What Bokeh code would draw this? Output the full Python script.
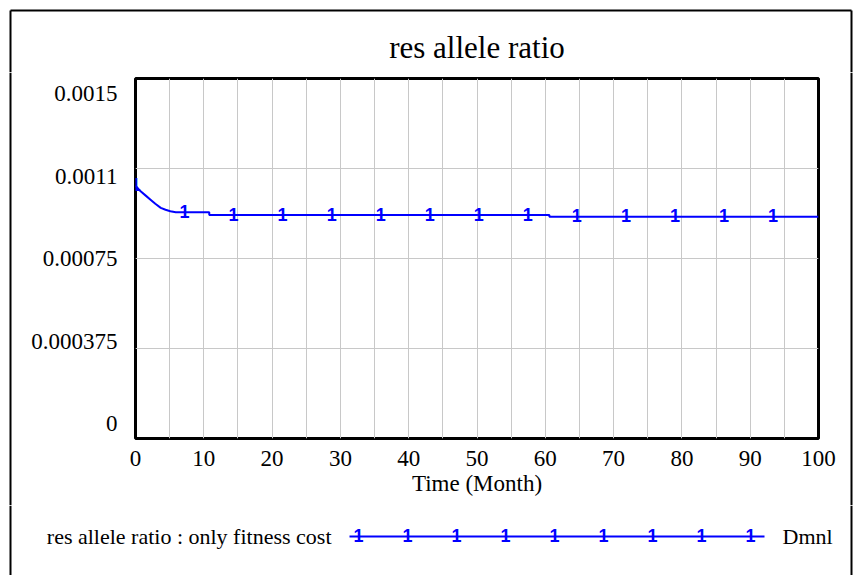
import numpy as np
from bokeh.plotting import figure
from bokeh.layouts import column, row
from bokeh.models import FixedTicker, CustomJSTickFormatter, Range1d
from bokeh.embed import file_html
from bokeh.resources import INLINE
from bokeh.core.properties import value

# Simulation output: res allele ratio, run "only fitness cost"
time_month = [0, 0.75, 1.5, 2.2, 2.9, 3.7, 4.4, 5.1, 5.9, 10.8, 10.8, 60.6, 60.6, 100]
res_allele_ratio = [0.001054, 0.001030, 0.001012, 0.000995, 0.000978, 0.000961,
                    0.000953, 0.000947, 0.000943, 0.000943, 0.000931, 0.000931,
                    0.000924, 0.000924]

chart_title = "res allele ratio"
x_axis_title = "Time (Month)"
series_name = "res allele ratio : only fitness cost"
series_units = "Dmnl"
series_marker = "1"

x_ticks = list(range(0, 101, 10))
x_grid = list(range(0, 101, 5))
y_ticks = [0, 0.000375, 0.00075, 0.001125, 0.0015]
y_tick_labels = ["0", "0.000375", "0.00075", "0.0011", "0.0015"]

# ---- page layout (pixels) ----
W = 856
TOP_H, MID_H, LEG_H = 72, 433, 70
LEFT_W, RIGHT_W = 20, 16
BOX_L, BOX_R, BOX_T = 10, 851, 10         # outer box around the chart
PLOT_W = W - LEFT_W - RIGHT_W
FRAME_L, FRAME_R, FRAME_T, FRAME_B = 135, 818, 78, 438

SERIF = "Liberation Serif"
SANS = "Liberation Sans"
BLUE = "#0000ff"
GRID = "#c8c8c8"
MARK_STEP = 7.18          # spacing of the "1" markers along the run, in months
MARK_SIZE = "18px"
MARK_DY = -1
LABEL_INSET = 15 / 360    # y tick labels are spread slightly inside the frame
LABEL_SIZE = "23px"
LEGEND_SIZE = "22px"

x_lo, x_hi = 0, 100
y_lo, y_hi = y_ticks[0], y_ticks[-1]


def pixel_panel(width, height):
    """A plain panel whose data space is its own pixels, y pointing down."""
    f = figure(width=width, height=height, output_backend="svg", toolbar_location=None,
               x_range=Range1d(0, width), y_range=Range1d(height, 0),
               x_axis_type=None, y_axis_type=None, min_border=0,
               outline_line_color=None, background_fill_color="white",
               border_fill_color="white", frame_align=False)
    f.grid.visible = False
    return f


def box_sides(f, x_off, height):
    f.segment(x0=[BOX_L - x_off, BOX_R - x_off], y0=[0, 0],
              x1=[BOX_L - x_off, BOX_R - x_off], y1=[height, height],
              line_color="black", line_width=2)


# ---- top strip: box top edge and chart title ----
top = pixel_panel(W, TOP_H)
top.segment(x0=[BOX_L, BOX_L, BOX_R], y0=[BOX_T, BOX_T, BOX_T],
            x1=[BOX_R, BOX_L, BOX_R], y1=[BOX_T, TOP_H, TOP_H],
            line_color="black", line_width=2)
top.text(x=[(FRAME_L + FRAME_R) / 2], y=[47], text=[chart_title],
         text_font=value(SERIF), text_font_size="31px", text_color="black",
         text_align="center", text_baseline="middle")

# ---- main plot ----
p = figure(width=PLOT_W, height=MID_H, output_backend="svg", toolbar_location=None,
           x_range=Range1d(x_lo, x_hi), y_range=Range1d(y_lo, y_hi),
           min_border_left=FRAME_L - LEFT_W, min_border_right=LEFT_W + PLOT_W - FRAME_R,
           min_border_top=FRAME_T - TOP_H, min_border_bottom=TOP_H + MID_H - FRAME_B,
           background_fill_color="white", border_fill_color="white", frame_align=False)
p.outline_line_color = "black"
p.outline_line_width = 3

p.xgrid.ticker = FixedTicker(ticks=x_grid)
p.ygrid.ticker = FixedTicker(ticks=y_ticks)
for g in (p.xgrid, p.ygrid):
    g.grid_line_color = GRID
    g.grid_line_width = 1

for ax in (p.xaxis, p.yaxis):
    ax.axis_line_color = None
    ax.major_tick_line_color = None
    ax.minor_tick_line_color = None
    ax.major_tick_in = 0
    ax.major_tick_out = 0
    ax.major_label_text_font = SERIF
    ax.major_label_text_font_size = LABEL_SIZE
    ax.major_label_text_color = "black"

p.xaxis.ticker = FixedTicker(ticks=x_ticks)
p.xaxis.major_label_standoff = 12
p.xaxis.axis_label = x_axis_title
p.xaxis.axis_label_text_font = SERIF
p.xaxis.axis_label_text_font_size = LABEL_SIZE
p.xaxis.axis_label_text_font_style = "normal"
p.xaxis.axis_label_text_color = "black"
p.xaxis.axis_label_standoff = 2

# y labels sit evenly between slightly inset top and bottom positions
span = y_hi - y_lo
y_label_pos = [y_lo + span * (LABEL_INSET + (1 - 2 * LABEL_INSET) * (v - y_lo) / span)
               for v in y_ticks]
p.yaxis.ticker = FixedTicker(ticks=y_label_pos)
p.yaxis.formatter = CustomJSTickFormatter(args=dict(labels=y_tick_labels),
                                          code="return labels[index];")
p.yaxis.major_label_standoff = 18

p.line(time_month, res_allele_ratio, line_color=BLUE, line_width=2)

mark_t = np.arange(x_lo, x_hi, MARK_STEP)
mark_v = np.interp(mark_t, time_month, res_allele_ratio)
p.text(x=mark_t, y=mark_v, text=[series_marker] * len(mark_t),
       text_font=value(SANS), text_font_size=MARK_SIZE, text_font_style="bold",
       text_color=BLUE, text_align="center", text_baseline="middle", y_offset=MARK_DY)

left = pixel_panel(LEFT_W, MID_H)
box_sides(left, 0, MID_H)
right = pixel_panel(RIGHT_W, MID_H)
box_sides(right, LEFT_W + PLOT_W, MID_H)

# ---- legend strip ----
leg = pixel_panel(W, LEG_H)
box_sides(leg, 0, LEG_H)
LEG_Y = 31
LEG_X0, LEG_X1 = 349, 764
leg.text(x=[331], y=[LEG_Y], text=[series_name], text_font=value(SERIF),
         text_font_size=LEGEND_SIZE, text_color="black",
         text_align="right", text_baseline="middle")
leg.segment(x0=[LEG_X0], y0=[LEG_Y], x1=[LEG_X1], y1=[LEG_Y],
            line_color=BLUE, line_width=2)
leg_mark_x = [358 + 49 * i for i in range(9)]
leg.text(x=leg_mark_x, y=[LEG_Y] * len(leg_mark_x), text=[series_marker] * len(leg_mark_x),
         text_font=value(SANS), text_font_size=MARK_SIZE, text_font_style="bold",
         text_color=BLUE, text_align="center", text_baseline="middle", y_offset=MARK_DY)
leg.text(x=[782], y=[LEG_Y], text=[series_units], text_font=value(SERIF),
         text_font_size=LEGEND_SIZE, text_color="black",
         text_align="left", text_baseline="middle")

layout = column(top, row(left, p, right), leg)

open("out.html", "w").write(file_html(layout, INLINE))
